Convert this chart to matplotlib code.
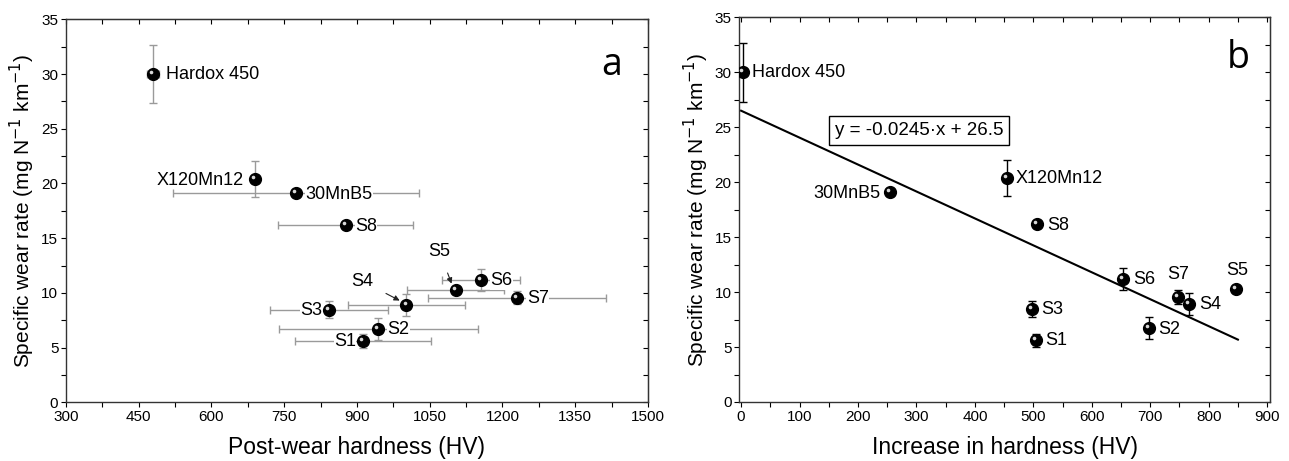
import matplotlib.pyplot as plt
from matplotlib.ticker import MultipleLocator
from matplotlib.transforms import offset_copy

plt.rcParams['font.family'] = ['Liberation Sans', 'DejaVu Sans']

names = ['Hardox 450', 'X120Mn12', '30MnB5', 'S8', 'S5', 'S6', 'S7', 'S4', 'S3', 'S2', 'S1']
wear = [30.0, 20.4, 19.1, 16.2, 10.25, 11.2, 9.55, 8.88, 8.47, 6.7, 5.6]
wear_err = [2.68, 1.65, 0.0, 0.0, 0.0, 1.0, 0.6, 1.0, 0.75, 1.0, 0.6]

# panel a: post-wear hardness
post_hv = [479, 689, 774, 877, 1104, 1156, 1230, 1002, 842, 944, 912]
post_hv_err = [12, 0, 253, 139, 100, 81, 183, 121, 122, 205, 140]

# panel b: increase in hardness
inc_hv = [3.5, 455, 255, 507, 847, 654, 748, 766, 498, 698, 505]

fit_slope = -0.0245
fit_icpt = 26.5
fit_x = [0, 850]

# label positions (data coords) and alignment
lab_a = {'Hardox 450': (506, 30.0, 'left'), 'X120Mn12': (667, 20.3, 'right'),
         '30MnB5': (793, 19.0, 'left'), 'S8': (896, 16.1, 'left'),
         'S6': (1175, 11.1, 'left'), 'S7': (1250, 9.48, 'left'),
         'S3': (829, 8.35, 'right'), 'S2': (963, 6.65, 'left'),
         'S1': (898, 5.52, 'right')}
arrows_a = {'S5': ((1070, 13.8), (1095, 10.85)), 'S4': ((911, 11.07), (988, 9.3))}

lab_b = {'Hardox 450': (19, 30.0, 'left'), '30MnB5': (239, 19.0, 'right'),
         'X120Mn12': (470, 20.35, 'left'), 'S8': (524, 16.1, 'left'),
         'S6': (670, 11.1, 'left'), 'S7': (748, 11.6, 'center'),
         'S5': (848, 12.0, 'center'), 'S4': (783, 8.83, 'left'),
         'S3': (514, 8.37, 'left'), 'S2': (714, 6.6, 'left'),
         'S1': (521, 5.55, 'left')}

fig = plt.figure(figsize=(12.89, 4.61), dpi=100)
ax_a = fig.add_axes([0.0512, 0.1273, 0.4515, 0.8307])
ax_b = fig.add_axes([0.5736, 0.128, 0.4117, 0.8345])


def spheres(ax, x, y):
    ax.plot(x, y, 'o', color='black', markersize=8.5, zorder=5, ls='none')
    tr = offset_copy(ax.transData, fig=fig, x=-1.4, y=1.4, units='points')
    ax.plot(x, y, 'o', color='white', markersize=2.6, alpha=0.85, zorder=6,
            ls='none', transform=tr, markeredgewidth=0)


def style(ax, xmaj, xmin):
    ax.xaxis.set_major_locator(MultipleLocator(xmaj))
    ax.xaxis.set_minor_locator(MultipleLocator(xmin))
    ax.yaxis.set_major_locator(MultipleLocator(5))
    ax.yaxis.set_minor_locator(MultipleLocator(2.5))
    ax.tick_params(which='both', direction='out', length=3.5, width=0.8,
                   labelsize=11, pad=2)
    for s in ax.spines.values():
        s.set_linewidth(1.0)
        s.set_color('#333333')
    top = ax.secondary_xaxis('top')
    top.xaxis.set_major_locator(MultipleLocator(xmaj))
    top.xaxis.set_minor_locator(MultipleLocator(xmin))
    top.tick_params(which='both', direction='in', length=3.5, width=0.8,
                    labeltop=False)
    right = ax.secondary_yaxis('right')
    right.yaxis.set_major_locator(MultipleLocator(5))
    right.yaxis.set_minor_locator(MultipleLocator(2.5))
    right.tick_params(which='both', direction='in', length=3.5, width=0.8,
                      labelright=False)
    ax.set_ylim(0, 35)
    ax.set_ylabel('Specific wear rate (mg N$^{-1}$ km$^{-1}$)', fontsize=15,
                  labelpad=3)


# panel a
ax_a.errorbar(post_hv, wear, xerr=post_hv_err, yerr=wear_err, fmt='none',
              ecolor='#9a9a9a', elinewidth=1.0, capsize=3, capthick=1.0, zorder=2)
spheres(ax_a, post_hv, wear)
for k, (x, y, ha) in lab_a.items():
    ax_a.text(x, y, k, ha=ha, va='center', fontsize=13, zorder=4,
              bbox=dict(facecolor='white', edgecolor='none', pad=0.3))
for k, (xy_t, xy_p) in arrows_a.items():
    ax_a.annotate(k, xy=xy_p, xytext=xy_t, ha='center', va='center', fontsize=13,
                  arrowprops=dict(arrowstyle='-|>', color='#222222', lw=0.8,
                                  mutation_scale=8, shrinkA=8, shrinkB=0))
ax_a.set_xlim(300, 1500)
style(ax_a, 150, 75)
ax_a.set_xlabel('Post-wear hardness (HV)', fontsize=16.5, labelpad=9)
ax_a.text(1426, 30.8, 'a', fontsize=27, ha='center', va='center',
          family=['Open Sans', 'DejaVu Sans'])

# panel b
ax_b.errorbar(inc_hv, wear, yerr=wear_err, fmt='none', ecolor='black',
              elinewidth=1.0, capsize=3, capthick=1.0, zorder=2)
ax_b.plot(fit_x, [fit_slope * v + fit_icpt for v in fit_x], color='black',
          lw=1.5, zorder=3)
spheres(ax_b, inc_hv, wear)
for k, (x, y, ha) in lab_b.items():
    ax_b.text(x, y, k, ha=ha, va='center', fontsize=13, zorder=4)
ax_b.text(304, 24.7, 'y = -0.0245·x + 26.5', ha='center', va='center', fontsize=13.5,
          bbox=dict(facecolor='white', edgecolor='black', lw=1.0, pad=4))
ax_b.set_xlim(-3, 905)
style(ax_b, 100, 50)
ax_b.set_xlabel('Increase in hardness (HV)', fontsize=16.5, labelpad=9)
ax_b.text(850, 31.3, 'b', fontsize=27, ha='center', va='center',
          family=['Open Sans', 'DejaVu Sans'])

fig.savefig('out.png', dpi=100)
